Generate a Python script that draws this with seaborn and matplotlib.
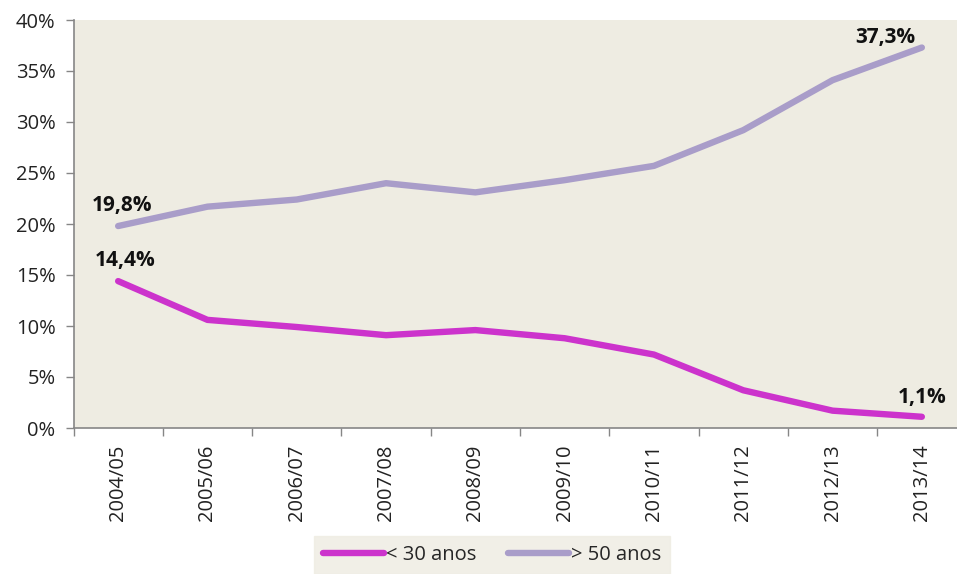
import matplotlib
matplotlib.use("Agg")
import matplotlib.pyplot as plt
import matplotlib.ticker as mticker
import numpy as np
import pandas as pd
import seaborn as sns

# Share of teachers by age group per school year
anos = ["2004/05", "2005/06", "2006/07", "2007/08", "2008/09",
        "2009/10", "2010/11", "2011/12", "2012/13", "2013/14"]
menos_30 = [14.4, 10.6, 9.9, 9.1, 9.6, 8.8, 7.2, 3.7, 1.7, 1.1]
mais_50 = [19.8, 21.7, 22.4, 24.0, 23.1, 24.3, 25.7, 29.2, 34.1, 37.3]
series = ["< 30 anos", "> 50 anos"]
cores = ["#CC33CC", "#A99DC9"]

df = pd.DataFrame({
    "ano": anos * 2,
    "pos": list(range(len(anos))) * 2,
    "valor": menos_30 + mais_50,
    "grupo": [series[0]] * len(anos) + [series[1]] * len(anos),
})

sns.set_theme(style="white")
plt.rcParams["font.family"] = ["Open Sans", "DejaVu Sans"]

fig = plt.figure(figsize=(9.57, 5.74), dpi=100)
W, H = 957, 574
left, right, top, bottom = 73.5, 966.5, 20, 428
ax = fig.add_axes([left / W, 1 - bottom / H, (right - left) / W, (bottom - top) / H])
ax.set_facecolor("#EEECE2")

sns.lineplot(data=df, x="pos", y="valor", hue="grupo", palette=cores,
             linewidth=4.6, ax=ax, legend=False, solid_capstyle="round")

fs = 14.5
ax.set_xlim(-0.5, len(anos) - 0.5)
ax.set_ylim(0, 40)
ax.yaxis.set_major_locator(mticker.MultipleLocator(5))
ax.yaxis.set_major_formatter(mticker.FuncFormatter(lambda v, p: f"{v:.0f}%"))
ax.set_xticks(range(len(anos)))
ax.set_xticklabels(anos, rotation=90)
ax.set_xticks(np.arange(-0.5, len(anos), 1.0), minor=True)
ax.tick_params(axis="x", which="major", length=0, pad=12, labelsize=fs, colors="#222222")
ax.tick_params(axis="x", which="minor", length=6, width=1, color="#868686", direction="out", bottom=True)
ax.tick_params(axis="y", which="major", length=6, width=1, color="#868686", direction="out",
               left=True, pad=7, labelsize=fs, labelcolor="#222222")
ax.set_xlabel("")
ax.set_ylabel("")
for s in ["top", "right"]:
    ax.spines[s].set_visible(False)
for s in ["left", "bottom"]:
    ax.spines[s].set_color("#868686")
    ax.spines[s].set_linewidth(1.2)

# Value labels on first and last points
def rotulo(v):
    return f"{v:.1f}%".replace(".", ",")

kw = dict(fontsize=15, fontweight="bold", color="#111111", ha="center", va="bottom")
ax.annotate(rotulo(mais_50[0]), (0, mais_50[0]), xytext=(3, 7), textcoords="offset points", **kw)
ax.annotate(rotulo(menos_30[0]), (0, menos_30[0]), xytext=(5, 7), textcoords="offset points", **kw)
ax.annotate(rotulo(mais_50[-1]), (9, mais_50[-1]), xytext=(-26, 0), textcoords="offset points", **kw)
ax.annotate(rotulo(menos_30[-1]), (9, menos_30[-1]), xytext=(0, 6), textcoords="offset points", **kw)

# Legend below the chart
handles = [plt.Line2D([], [], color=c, linewidth=4.6, solid_capstyle="round") for c in cores]
leg = fig.legend(handles, series, loc="center", bbox_to_anchor=(492 / W, 1 - 555 / H),
                 ncol=2, frameon=True, fontsize=fs, handlelength=3.0, handletextpad=0.1,
                 columnspacing=1.6, borderpad=0.45, borderaxespad=0, fancybox=False)
leg.get_frame().set_facecolor("#EEECE2")
leg.get_frame().set_edgecolor("#EEECE2")

fig.savefig("out.png", dpi=100, facecolor="white")
